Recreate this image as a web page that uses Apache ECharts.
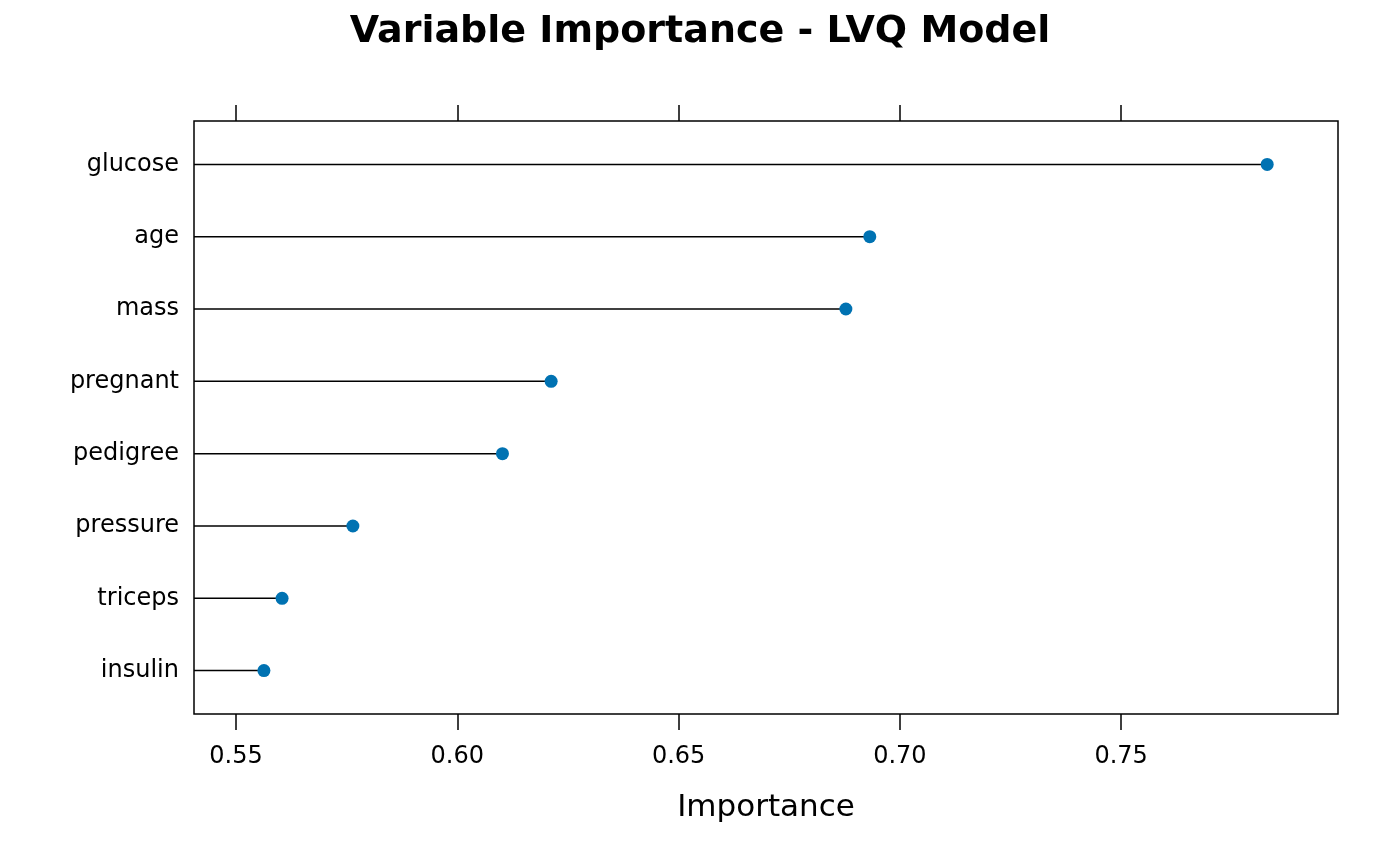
<!DOCTYPE html>
<html>
<head>
<meta charset="utf-8">
<script src="https://cdn.jsdelivr.net/npm/echarts@6/dist/echarts.min.js"></script>
<style>
  html, body { margin: 0; padding: 0; background: #fff; }
  #chart { width: 1400px; height: 865px; }
</style>
</head>
<body>
<div id="chart"></div>
<script>
// variables, bottom to top
const variables = ['insulin', 'triceps', 'pressure', 'pedigree', 'pregnant', 'mass', 'age', 'glucose'];
const importance = [0.5563, 0.5604, 0.5764, 0.6102, 0.6212, 0.6878, 0.6932, 0.7830];
const xTicks = [0.55, 0.60, 0.65, 0.70, 0.75];

const xMin = 0.5405;
const xMax = 0.7990;
const font = 'DejaVu Sans';

const chart = echarts.init(document.getElementById('chart'));
const points = importance.map((v, i) => [v, i]);

const tickStyle = { show: true, inside: false, length: 16, customValues: xTicks, lineStyle: { color: '#000', width: 1.5 } };

const option = {
  animation: false,
  backgroundColor: '#fff',
  title: {
    text: 'Variable Importance - LVQ Model',
    left: 'center',
    top: 8,
    textStyle: { fontFamily: font, fontSize: 38, fontWeight: 'bold', color: '#000' }
  },
  grid: {
    left: 194, right: 62, top: 121, bottom: 151,
    show: true, borderColor: '#000', borderWidth: 1.5, backgroundColor: 'transparent'
  },
  xAxis: [
    {
      type: 'value', position: 'bottom', min: xMin, max: xMax,
      name: 'Importance', nameLocation: 'middle', nameGap: 78,
      nameTextStyle: { fontFamily: font, fontSize: 31, color: '#000' },
      axisLine: { show: false, onZero: false },
      splitLine: { show: false },
      axisTick: tickStyle,
      axisLabel: {
        customValues: xTicks, margin: 31,
        fontFamily: font, fontSize: 24, color: '#000',
        formatter: v => v.toFixed(2)
      }
    },
    {
      type: 'value', position: 'top', min: xMin, max: xMax,
      axisLine: { show: false, onZero: false },
      splitLine: { show: false },
      axisTick: tickStyle,
      axisLabel: { show: false }
    }
  ],
  yAxis: {
    type: 'value', min: -0.6, max: 7.6,
    axisLine: { show: false, onZero: false },
    axisTick: { show: false },
    splitLine: { show: false },
    axisLabel: {
      customValues: variables.map((_, i) => i),
      margin: 15,
      padding: [4, 0, 0, 0],
      fontFamily: font, fontSize: 24, color: '#000',
      formatter: v => variables[Math.round(v)] || ''
    }
  },
  series: [
    {
      type: 'custom',
      data: points,
      renderItem: (params, api) => {
        const a = api.coord([xMin, api.value(1)]);
        const b = api.coord([api.value(0), api.value(1)]);
        return {
          type: 'line',
          shape: { x1: a[0], y1: a[1], x2: b[0], y2: b[1] },
          style: { stroke: '#000', lineWidth: 1.5 }
        };
      }
    },
    {
      type: 'scatter',
      data: points,
      symbol: 'circle',
      symbolSize: 13,
      itemStyle: { color: '#0072B2', opacity: 1 }
    }
  ]
};

chart.setOption(option);
</script>
</body>
</html>
